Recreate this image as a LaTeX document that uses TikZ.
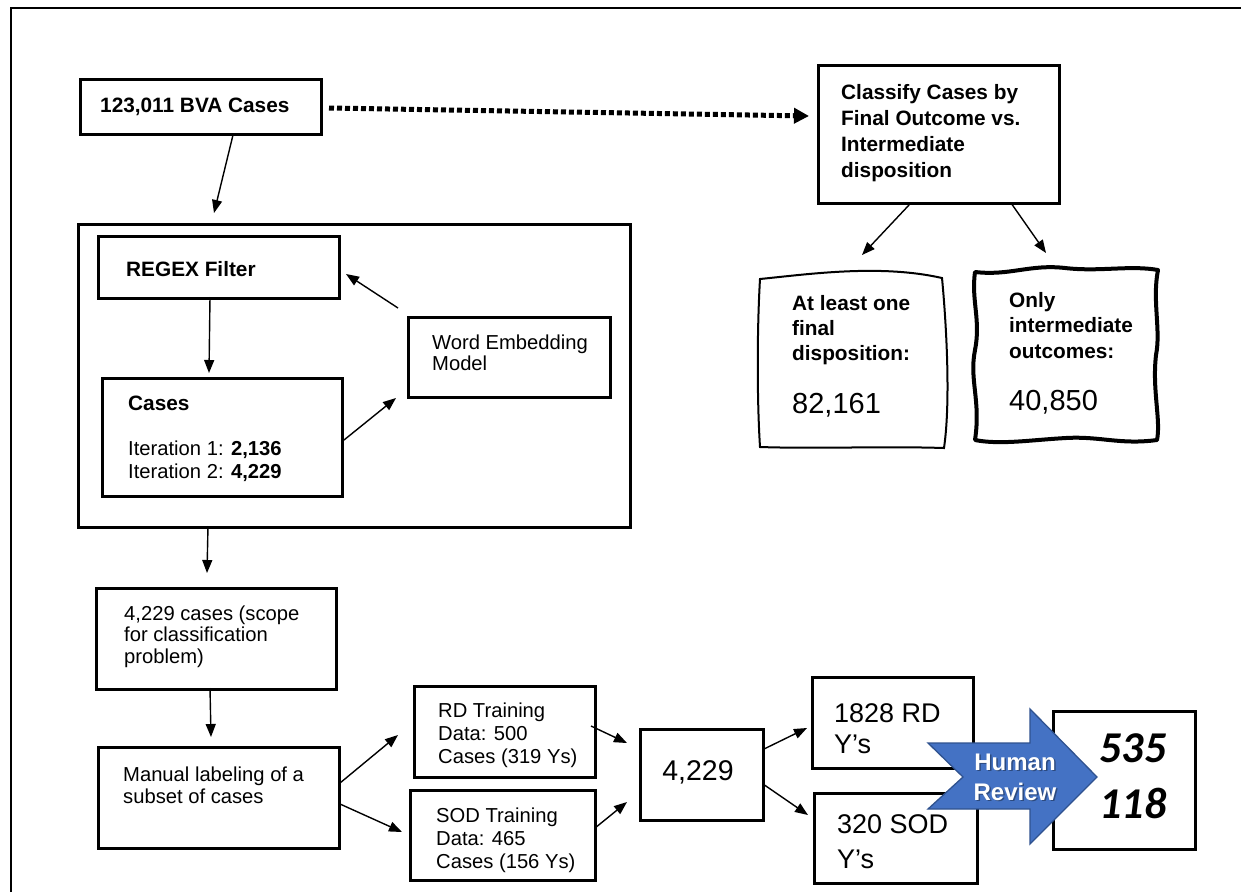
\documentclass[tikz,border=0pt]{standalone}
\usepackage{fontspec}
\setmainfont{Liberation Sans}
\newfontfamily\calibfont{Carlito}
\usetikzlibrary{arrows.meta,calc}
\definecolor{hrblue}{HTML}{4472C4}
\definecolor{hredge}{HTML}{2F528F}
\begin{document}
\begin{tikzpicture}[x=1pt,y=-1pt,
  box/.style={draw, line width=2.6pt, inner sep=0pt, anchor=north west},
  arr/.style={line width=1.4pt, -{Triangle[length=13pt,width=10pt]}},
  dotarr/.style={line width=5pt, dash pattern=on 5pt off 3pt, -{Triangle[length=15pt,width=15pt]}},
  txt/.style={anchor=base west, inner sep=0pt, align=left},
  fB/.style={font=\fontsize{20.8}{25.8}\selectfont\bfseries},
  fR/.style={font=\fontsize{20.2}{21.5}\selectfont},
  fBig/.style={font=\fontsize{28.5}{31}\selectfont},
  fY/.style={font=\fontsize{27}{31}\selectfont},
  fC/.style={font=\fontsize{44}{50}\calibfont\bfseries\itshape},
  fH/.style={font=\fontsize{24}{30}\selectfont\bfseries}
]
\useasboundingbox (0,0) rectangle (1241,892);
% outer frame
\draw[line width=2.6pt] (11,892) -- (11,8) -- (1241,8);

% boxes
\node[box, minimum width=241, minimum height=55] (bva) at (79,78) {};
\node[box, minimum width=241, minimum height=138] (cls) at (817,64) {};
\node[box, minimum width=552, minimum height=303] (cont) at (77,223) {};
\node[box, minimum width=241, minimum height=62] (regex) at (97,235) {};
\node[box, minimum width=240, minimum height=118] (cases) at (101,377) {};
\node[box, minimum width=202, minimum height=80] (we) at (407,316) {};
\node[box, minimum width=240, minimum height=101] (scope) at (95,587) {};
\node[box, minimum width=241, minimum height=101] (manual) at (97,746) {};
\node[box, minimum width=181, minimum height=91] (rd) at (413,685) {};
\node[box, minimum width=185, minimum height=90] (sod) at (409,789) {};
\node[box, minimum width=123, minimum height=91] (mid) at (639,728) {};
\node[box, minimum width=161, minimum height=91] (rdy) at (811,676) {};
\node[box, minimum width=163, minimum height=90] (sody) at (813,792) {};
\node[box, minimum width=142, minimum height=138] (fin) at (1052,710) {};

% wavy outcome boxes
\node[anchor=north west, inner sep=0pt, minimum width=188, minimum height=170] (lw) at (760,278) {};
\node[anchor=north west, inner sep=0pt, minimum width=183, minimum height=170] (rw) at (975,270) {};
\draw[line width=2pt] (760,279) .. controls (810,274) and (880,264) .. (942,278)
  .. controls (946,320) and (951,400) .. (944,448)
  .. controls (880,446) and (820,449) .. (760,447)
  .. controls (757,400) and (757,330) .. cycle;
\draw[line width=4pt, line join=round] (975,272) .. controls (1010,276) and (1030,264) .. (1065,268)
  .. controls (1100,272) and (1130,265) .. (1158,270)
  .. controls (1152,300) and (1161,330) .. (1156,355)
  .. controls (1152,390) and (1161,420) .. (1157,440)
  .. controls (1120,445) and (1100,436) .. (1066,438)
  .. controls (1030,440) and (1000,445) .. (975,440)
  .. controls (981,400) and (969,380) .. (975,350)
  .. controls (981,320) and (971,300) .. cycle;

% texts (anchor = baseline of the last line)
\node[txt, fB] (t-bva) at (100,112) {123,011 BVA Cases};
\node[txt, fB] (t-cls) at (841,177) {Classify Cases by\\Final Outcome vs.\\Intermediate\\disposition};
\node[txt, fB] (t-regex) at (126,276) {REGEX Filter};
\node[txt, fB] (t-cases) at (128,410) {Cases};
\node[txt, fR, font=\fontsize{20.2}{23}\selectfont] (t-iter) at (128,478) {Iteration 1: \textbf{2,136}\\Iteration 2: \textbf{4,229}};
\node[txt, fR, font=\fontsize{20.2}{21}\selectfont] (t-we) at (432,370) {Word Embedding\\Model};
\node[txt, fR] (t-scope) at (124,663) {4,229 cases (scope\\for classification\\problem)};
\node[txt, fR] (t-manual) at (123,803) {Manual labeling of a\\subset of cases};
\node[txt, fR, font=\fontsize{20.2}{23}\selectfont] (t-rd) at (438,763) {RD Training\\Data: 500\\Cases (319 Ys)};
\node[txt, fR, font=\fontsize{20.2}{23}\selectfont] (t-sod) at (436,868) {SOD Training\\Data: 465\\Cases (156 Ys)};
\node[anchor=base, inner sep=0pt, fBig] (t-mid) at (698,780) {4,229};
\node[txt, fY] (t-rdy) at (834,753) {1828 RD\\Y’s};
\node[txt, fY, font=\fontsize{27}{35}\selectfont] (t-sody) at (837,868) {320 SOD\\Y’s};
\node[txt, fB, font=\fontsize{20.8}{25}\selectfont\bfseries] (t-lw) at (792,360) {At least one\\final\\disposition:};
\node[txt, fBig, font=\fontsize{29}{31}\selectfont] (n-lw) at (792,413) {82,161};
\node[txt, fB, font=\fontsize{20.8}{25.5}\selectfont\bfseries] (t-rw) at (1009,358) {Only\\intermediate\\outcomes:};
\node[txt, fBig, font=\fontsize{29}{31}\selectfont] (n-rw) at (1009,410) {40,850};
\node[anchor=base, inner sep=0pt, fC] (t-535) at (1133,762) {535};
\node[anchor=base, inner sep=0pt, fC] (t-118) at (1133,818) {118};

% connectors
\draw[dotarr] ($(bva.north west)+(250,30)$) -- ($(cls.north west)+(-8,52)$);
\draw[arr] ($(bva.north west)+(154,57)$) -- ($(cont.north west)+(137,-10)$);
\draw[arr] ($(cls.north west)+(92,141)$) -- ($(lw.north west)+(102,-23)$);
\draw[arr] ($(cls.north west)+(194,139)$) -- ($(rw.north west)+(71,-17)$);
\draw[arr] ($(regex.north west)+(113,62)$) -- ($(cases.north west)+(108,-4)$);
\draw[arr] ($(cases.north west)+(243,63)$) -- ($(we.north west)+(-11,82)$);
\draw[arr] ($(we.north west)+(-9,-8)$) -- ($(regex.north west)+(249,39)$);
\draw[arr] ($(cont.north west)+(131,303)$) -- ($(scope.north west)+(112,-14)$);
\draw[arr] ($(scope.north west)+(115,101)$) -- ($(manual.north west)+(114,-9)$);
\draw[arr] ($(manual.north west)+(243,37)$) -- ($(rd.north west)+(-15,50)$);
\draw[arr] ($(manual.north west)+(243,58)$) -- ($(sod.north west)+(-7,43)$);
\draw[arr] ($(rd.north west)+(178,41)$) -- ($(mid.north west)+(-12,15)$);
\draw[arr] ($(sod.north west)+(186,39)$) -- ($(mid.north west)+(-12,74)$);
\draw[arr] ($(mid.north west)+(125,21)$) -- ($(rdy.north west)+(-4,52)$);
\draw[arr] ($(mid.north west)+(124,56)$) -- ($(sody.north west)+(-5,23)$);

% human review arrow
\filldraw[fill=hrblue, draw=hredge, line width=1.3pt, line join=miter]
  (928,743) -- (1030,743) -- (1030,709) -- (1097,777) -- (1030,844) -- (1030,809) -- (928,809) -- (963,777) -- cycle;
\node[anchor=base, inner sep=0pt, fH, text=black, opacity=0.35] at (1016.5,771.5) {Human};
\node[anchor=base, inner sep=0pt, fH, text=black, opacity=0.35] at (1016.5,801.5) {Review};
\node[anchor=base, inner sep=0pt, fH, text=white] (t-human) at (1015,770) {Human};
\node[anchor=base, inner sep=0pt, fH, text=white] (t-review) at (1015,800) {Review};
\end{tikzpicture}
\end{document}
